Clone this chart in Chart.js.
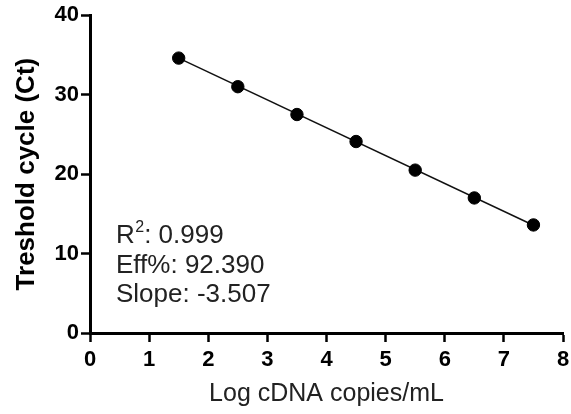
<!DOCTYPE html>
<html>
<head>
<meta charset="utf-8">
<script src="https://cdn.jsdelivr.net/npm/chart.js@4/dist/chart.umd.min.js"></script>
<style>
  html, body { margin: 0; padding: 0; background: #fff; }
  #c { display: block; }
</style>
</head>
<body>
<canvas id="c" width="571" height="414"></canvas>
<script>
// ---- data ----
const logCopies = [1.5, 2.5, 3.5, 4.5, 5.5, 6.5, 7.5];
const ctValues  = [34.6, 31.0, 27.5, 24.1, 20.5, 17.0, 13.6];
const fitX = [1.5, 7.5];
const fitY = [34.6, 13.56];
const xTicks = [0, 1, 2, 3, 4, 5, 6, 7, 8];
const yTicks = [0, 10, 20, 30, 40];
const statsLines = [
  { label: 'R', sup: '2', value: ': 0.999' },
  { label: 'Eff%', sup: '', value: ': 92.390' },
  { label: 'Slope', sup: '', value: ': -3.507' }
];

const FONT = "'Liberation Sans', Arial, Helvetica, sans-serif";

const statsPlugin = {
  id: 'stats',
  afterDatasetsDraw(chart) {
    const { ctx, chartArea } = chart;
    ctx.save();
    ctx.fillStyle = '#222';
    ctx.textBaseline = 'alphabetic';
    ctx.textAlign = 'left';
    const x0 = chartArea.left + 26;
    let y = chartArea.top + 228;
    statsLines.forEach(l => {
      let x = x0;
      ctx.font = '26px ' + FONT;
      ctx.fillText(l.label, x, y);
      x += ctx.measureText(l.label).width;
      if (l.sup) {
        ctx.font = '16px ' + FONT;
        ctx.fillText(l.sup, x + 0.5, y - 11);
        x += ctx.measureText(l.sup).width + 0.5;
        ctx.font = '26px ' + FONT;
      }
      ctx.fillText(l.value, x, y);
      y += 29.5;
    });
    ctx.restore();
  }
};

new Chart(document.getElementById('c'), {
  type: 'scatter',
  data: {
    datasets: [
      {
        label: 'Ct',
        data: logCopies.map((x, i) => ({ x, y: ctValues[i] })),
        backgroundColor: '#000',
        borderColor: '#000',
        pointRadius: 6.2,
        pointHoverRadius: 6.2,
        showLine: false,
        order: 0
      },
      {
        label: 'fit',
        data: fitX.map((x, i) => ({ x, y: fitY[i] })),
        borderColor: '#111',
        borderWidth: 1.5,
        pointRadius: 0,
        showLine: true,
        fill: false,
        order: 1
      }
    ]
  },
  options: {
    responsive: false,
    animation: false,
    events: [],
    layout: { padding: { left: 0, right: 0, top: 14, bottom: 0 } },
    plugins: {
      legend: { display: false },
      tooltip: { enabled: false }
    },
    scales: {
      x: {
        type: 'linear',
        min: 0, max: 8,
        afterFit(s) { s.height = 81; s.paddingRight = 8; },
        afterBuildTicks(s) { s.ticks = xTicks.map(v => ({ value: v })); },
        border: { display: true, color: '#000', width: 3 },
        grid: {
          display: true, drawOnChartArea: false, drawTicks: true,
          tickLength: 9, tickWidth: 2.5, tickColor: '#000'
        },
        ticks: {
          color: '#000', padding: 5,
          font: { family: FONT, size: 22, weight: 'bold' },
          maxRotation: 0
        },
        title: {
          display: true, text: 'Log cDNA copies/mL', color: '#222',
          font: { family: FONT, size: 25 },
          padding: { top: 0, bottom: 5 }
        }
      },
      y: {
        type: 'linear',
        min: 0, max: 40,
        afterFit(s) { s.width = 90; },
        afterBuildTicks(s) { s.ticks = yTicks.map(v => ({ value: v })); },
        border: { display: true, color: '#000', width: 3 },
        grid: {
          display: true, drawOnChartArea: false, drawTicks: true,
          tickLength: 9, tickWidth: 2.5, tickColor: '#000'
        },
        ticks: {
          color: '#000', padding: 2,
          font: { family: FONT, size: 22, weight: 'bold' }
        },
        title: {
          display: true, text: 'Treshold cycle (Ct)', color: '#000',
          font: { family: FONT, size: 26, weight: 'bold' },
          padding: { top: 11, bottom: 0 }
        }
      }
    }
  },
  plugins: [statsPlugin]
});
</script>
</body>
</html>
